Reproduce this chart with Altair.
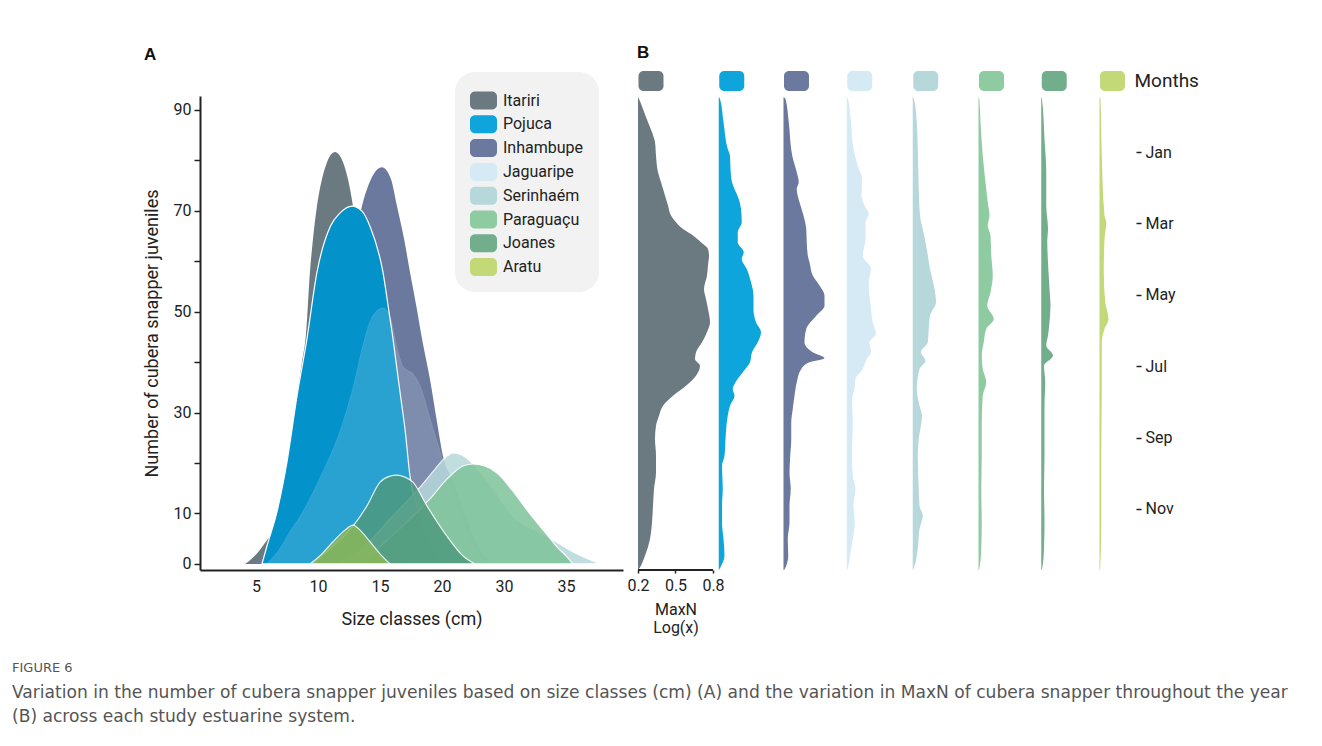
import altair as alt
import pandas as pd

SERIES = ["Itariri", "Pojuca", "Inhambupe", "Jaguaripe", "Serinhaém", "Paraguaçu", "Joanes", "Aratu"]
COLORS = ["#6A7A80", "#0DA5DC", "#6B799E", "#D6EAF5", "#B7D8DB", "#8FCBA1", "#72AE8C", "#C3D877"]

# ---------------- Panel A: juveniles per size class ----------------
SIZE_TICKS = [5, 10, 15, 20, 25, 30]
SIZE_TICK_LABELS = ["5", "10", "15", "20", "30", "35"]
COUNT_TICKS = [0, 10, 20, 30, 40, 50, 60, 70, 80, 90]
COUNT_LABELLED = [0, 10, 30, 50, 70, 90]

itariri_size = [4.11, 4.35, 5.56, 6.37, 7.18, 7.74, 8.31, 8.71, 9.03, 9.35, 9.6, 9.92, 10.32, 10.73, 11.37,
                 12.02, 12.42, 12.82, 13.23, 13.71, 14.35, 15.16, 16.21, 17.42, 18.63, 19.44]
itariri_count = [0, 0.4, 3.6, 6.9, 14.9, 23.4, 33.3, 40.0, 45.5, 57.8, 64.4, 70.9, 76.2, 79.6, 81.6,
                 79.6, 76.2, 70.9, 63.4, 52.5, 36.6, 21.8, 9.9, 3.0, 0.4, 0]

inhambupe_size = [4.52, 5.48, 6.94, 8.55, 10.0, 11.21, 12.18, 12.98, 13.55, 14.27, 15.16, 15.89, 16.37,
                  16.94, 17.42, 17.90, 18.39, 19.03, 19.6, 20.08, 20.89, 21.69, 22.82, 23.87, 24.27]
inhambupe_count = [0, 1.0, 4.0, 11.9, 23.8, 36.6, 52.5, 64.4, 70.9, 76.2, 78.6, 76.2, 70.9,
                   64.4, 57.8, 51.5, 44.6, 36.6, 28.1, 21.4, 16.4, 10.9, 4.0, 0.4, 0]

pojuca_size = [5.48, 5.89, 6.69, 7.5, 8.31, 9.11, 9.92, 11.0, 11.77, 12.74, 13.55, 14.19, 15.24, 15.73,
               16.05, 16.37, 16.69, 17.02, 17.42, 18.06, 18.87, 19.84, 20.48]
pojuca_count = [0, 3.6, 10.3, 20.2, 33.3, 44.6, 57.8, 66.9, 69.5, 70.9, 69.9, 66.9, 57.8, 49.9,
                44.6, 38.6, 32.7, 26.7, 17.4, 10.9, 5.0, 1.0, 0]

jaguaripe_size = [5.89, 6.77, 7.74, 8.79, 10.4, 11.77, 12.82, 13.63, 14.19, 14.76, 15.24, 15.81, 16.37,
                  16.85, 17.66, 18.23, 19.03, 19.84, 20.4, 21.05, 21.85, 22.9, 23.87]
jaguaripe_count = [0, 2.4, 6.3, 10.3, 18.2, 26.1, 34.7, 43.2, 47.9, 50.1, 50.7, 48.9, 42.6,
                   39.0, 37.6, 35.2, 28.7, 22.2, 18.2, 12.9, 6.9, 2.0, 0]

serinhaem_size = [11.37, 13.39, 15.81, 18.23, 19.44, 20.24, 20.89, 21.61, 22.26, 23.87, 25.73, 28.47, 30.56, 32.74]
serinhaem_count = [0, 2.6, 8.9, 15.2, 18.8, 21.0, 22.0, 21.6, 20.4, 15.8, 9.5, 5.5, 2.4, 0]

paraguacu_size = [13.39, 15.0, 17.02, 19.03, 20.4, 21.69, 22.5, 23.47, 24.44, 25.89, 27.1, 28.31, 29.27, 30.08, 30.56]
paraguacu_count = [0, 3.4, 8.0, 12.9, 16.8, 19.4, 19.8, 19.4, 18.0, 13.9, 9.9, 6.3, 3.4, 1.4, 0]

joanes_size = [9.52, 11.21, 12.82, 13.95, 15.0, 15.81, 16.37, 17.02, 17.66, 18.79, 20.4, 21.69, 22.66]
joanes_count = [0, 3.6, 7.5, 11.5, 16.2, 17.4, 17.6, 17.2, 16.2, 11.5, 5.5, 1.6, 0]

aratu_size = [9.35, 10.32, 11.21, 12.18, 12.82, 13.39, 14.19, 15.0, 15.81]
aratu_count = [0, 2.0, 4.4, 6.7, 7.7, 6.7, 4.4, 2.0, 0]

A_CURVES = {
    "Itariri": (itariri_size, itariri_count),
    "Inhambupe": (inhambupe_size, inhambupe_count),
    "Pojuca": (pojuca_size, pojuca_count),
    "Jaguaripe": (jaguaripe_size, jaguaripe_count),
    "Serinhaém": (serinhaem_size, serinhaem_count),
    "Paraguaçu": (paraguacu_size, paraguacu_count),
    "Joanes": (joanes_size, joanes_count),
    "Aratu": (aratu_size, aratu_count),
}
A_OPACITY = {"Itariri": 1, "Inhambupe": 1, "Pojuca": 1, "Jaguaripe": 0.18,
             "Serinhaém": 0.85, "Paraguaçu": 0.85, "Joanes": 0.85, "Aratu": 0.85}
# overlap tones seen in panel A (legend keeps the pure colours)
A_FILL_OVERRIDE = {"Pojuca": "#0392CA", "Paraguaçu": "#7EC499", "Joanes": "#4E9A7E", "Aratu": "#8AB85A"}
A_OUTLINED = {"Pojuca", "Jaguaripe", "Serinhaém", "Paraguaçu", "Joanes", "Aratu"}

# ---------------- Panel B: MaxN through the year ----------------
MONTH_TICKS = [1, 3, 5, 7, 9, 11]
MONTH_LABELS = ["Jan", "Mar", "May", "Jul", "Sep", "Nov"]
MAXN_TICKS = [0.2, 0.5, 0.8]

itariri_month = [-0.54, -0.485, -0.204, 0.169, 0.449, 0.729, 1.103, 1.57, 1.85, 2.22, 2.50, 2.78, 2.97, 3.16,
                 3.34, 3.53, 3.72, 3.90, 4.18, 4.46, 4.84, 5.12, 5.40, 5.77, 6.05, 6.33, 6.61, 6.80, 6.99,
                 7.27, 7.55, 7.83, 8.11, 8.39, 8.67, 9.04, 9.51, 9.97, 10.44, 10.91, 11.37, 11.84, 12.31,
                 12.68, 12.72]
itariri_maxn = [0.2, 0.208, 0.24, 0.28, 0.312, 0.336, 0.344, 0.36, 0.384, 0.416, 0.44, 0.464, 0.504, 0.56,
                0.64, 0.704, 0.76, 0.768, 0.76, 0.752, 0.728, 0.744, 0.76, 0.776, 0.752, 0.712, 0.664, 0.656,
                0.696, 0.664, 0.584, 0.48, 0.4, 0.368, 0.344, 0.336, 0.344, 0.344, 0.328, 0.32, 0.312, 0.296,
                0.256, 0.208, 0.2]

pojuca_month = [-0.54, -0.485, 0.169, 0.916, 1.103, 1.476, 1.85, 2.036, 2.317, 2.597, 2.97, 3.25, 3.53, 3.81,
                4.0, 4.28, 4.65, 5.02, 5.40, 5.77, 6.05, 6.33, 6.61, 6.89, 7.17, 7.45, 7.64, 7.83, 8.11,
                8.39, 8.58, 9.04, 9.51, 9.79, 10.44, 10.91, 11.37, 11.84, 12.31, 12.68, 12.72]
pojuca_maxn = [0.2, 0.21, 0.238, 0.272, 0.29, 0.294, 0.306, 0.326, 0.36, 0.378, 0.384, 0.352, 0.352, 0.4,
               0.384, 0.424, 0.458, 0.478, 0.478, 0.498, 0.538, 0.512, 0.466, 0.45, 0.392, 0.334, 0.312,
               0.326, 0.29, 0.272, 0.264, 0.254, 0.246, 0.226, 0.232, 0.226, 0.226, 0.238, 0.246, 0.206, 0.2]

inhambupe_month = [-0.54, -0.485, 0.169, 1.103, 1.57, 1.85, 2.036, 2.41, 2.78, 3.16, 3.53, 3.90, 4.09, 4.46,
                   4.74, 5.02, 5.31, 5.59, 5.96, 6.33, 6.61, 6.78, 6.89, 7.08, 7.45, 7.83, 8.20, 8.58, 9.04,
                   9.51, 9.97, 10.44, 10.91, 11.37, 11.84, 12.31, 12.68, 12.72]
inhambupe_maxn = [0.2, 0.216, 0.242, 0.27, 0.306, 0.322, 0.306, 0.328, 0.36, 0.382, 0.386, 0.394, 0.408,
                  0.434, 0.488, 0.528, 0.528, 0.462, 0.382, 0.368, 0.434, 0.528, 0.408, 0.342, 0.306, 0.288,
                  0.274, 0.262, 0.262, 0.254, 0.248, 0.258, 0.248, 0.248, 0.234, 0.238, 0.21, 0.2]

jaguaripe_month = [-0.54, -0.485, 0.169, 0.916, 1.383, 1.757, 2.223, 2.50, 2.74, 2.97, 3.44, 3.90, 4.28, 4.65,
                   5.02, 5.40, 5.77, 6.10, 6.33, 6.61, 6.80, 7.08, 7.36, 7.64, 7.92, 8.58, 9.51, 10.07, 10.44,
                   10.91, 11.37, 11.84, 12.31, 12.68, 12.72]
jaguaripe_maxn = [0.2, 0.21, 0.234, 0.254, 0.288, 0.322, 0.318, 0.342, 0.376, 0.35, 0.35, 0.328, 0.394, 0.376,
                  0.382, 0.394, 0.408, 0.434, 0.382, 0.394, 0.36, 0.328, 0.27, 0.262, 0.242, 0.248, 0.242,
                  0.248, 0.27, 0.254, 0.264, 0.248, 0.226, 0.206, 0.2]

serinhaem_month = [-0.54, -0.485, 0.169, 1.103, 2.036, 2.78, 3.25, 3.72, 4.28, 4.84, 5.21, 5.59, 5.96, 6.33,
                   6.61, 6.85, 7.08, 7.64, 8.11, 8.39, 9.04, 9.51, 10.44, 10.91, 11.19, 11.56, 12.12, 12.68, 12.72]
serinhaem_maxn = [0.2, 0.21, 0.232, 0.242, 0.248, 0.258, 0.286, 0.312, 0.338, 0.374, 0.386, 0.338, 0.328, 0.32,
                  0.266, 0.302, 0.254, 0.232, 0.254, 0.274, 0.248, 0.24, 0.248, 0.254, 0.28, 0.254, 0.24,
                  0.206, 0.2]

paraguacu_month = [-0.54, -0.485, 0.169, 1.103, 2.036, 2.41, 2.78, 3.06, 3.34, 3.90, 4.46, 4.93, 5.31, 5.68,
                   5.96, 6.33, 6.70, 7.08, 7.45, 7.83, 8.58, 9.51, 10.44, 11.37, 12.12, 12.68, 12.72]
paraguacu_maxn = [0.2, 0.206, 0.216, 0.234, 0.262, 0.274, 0.288, 0.274, 0.296, 0.302, 0.314, 0.296, 0.27,
                  0.322, 0.262, 0.242, 0.226, 0.234, 0.262, 0.234, 0.226, 0.226, 0.222, 0.226, 0.222, 0.206, 0.2]

joanes_month = [-0.54, -0.485, 0.636, 1.57, 2.50, 3.16, 3.53, 4.09, 4.84, 5.31, 5.77, 6.14, 6.42, 6.70, 6.99,
                7.45, 8.11, 9.51, 10.44, 11.37, 12.12, 12.68, 12.72]
joanes_maxn = [0.2, 0.206, 0.226, 0.24, 0.24, 0.254, 0.248, 0.254, 0.266, 0.274, 0.266, 0.254, 0.24, 0.294,
               0.222, 0.232, 0.226, 0.226, 0.222, 0.226, 0.222, 0.206, 0.2]

aratu_month = [-0.54, -0.485, 1.103, 2.78, 2.97, 3.44, 4.37, 5.21, 5.68, 5.96, 6.33, 7.64, 9.51, 11.37, 12.68, 12.72]
aratu_maxn = [0.2, 0.208, 0.218, 0.24, 0.254, 0.24, 0.234, 0.246, 0.272, 0.24, 0.218, 0.218, 0.214, 0.214, 0.206, 0.2]

B_PROFILES = {
    "Itariri": (itariri_month, itariri_maxn),
    "Pojuca": (pojuca_month, pojuca_maxn),
    "Inhambupe": (inhambupe_month, inhambupe_maxn),
    "Jaguaripe": (jaguaripe_month, jaguaripe_maxn),
    "Serinhaém": (serinhaem_month, serinhaem_maxn),
    "Paraguaçu": (paraguacu_month, paraguacu_maxn),
    "Joanes": (joanes_month, joanes_maxn),
    "Aratu": (aratu_month, aratu_maxn),
}
# column baseline of each estuary on the shared MaxN axis (Itariri sits on the 0.2 origin)
B_COLUMN_BASE = [0.2, 0.846, 1.364, 1.870, 2.398, 2.924, 3.426, 3.892]
MAXN_ORIGIN = 0.2

CAPTION_HEAD = "FIGURE 6"
CAPTION_LINES = [
    "Variation in the number of cubera snapper juveniles based on size classes (cm) (A) and the variation in MaxN of cubera snapper throughout the year",
    "(B) across each study estuarine system.",
]

# ---------------- styling helpers ----------------
FONT = "Roboto"
INK = "#222222"
LEGEND_SWATCH = ("M -0.63 -0.667 L 0.63 -0.667 A 0.37 0.37 0 0 1 1 -0.297 L 1 0.297 "
                 "A 0.37 0.37 0 0 1 0.63 0.667 L -0.63 0.667 A 0.37 0.37 0 0 1 -1 0.297 "
                 "L -1 -0.297 A 0.37 0.37 0 0 1 -0.63 -0.667 Z")
TOP_SWATCH = ("M -0.6 -0.8 L 0.6 -0.8 A 0.4 0.4 0 0 1 1 -0.4 L 1 0.4 A 0.4 0.4 0 0 1 0.6 0.8 "
              "L -0.6 0.8 A 0.4 0.4 0 0 1 -1 0.4 L -1 -0.4 A 0.4 0.4 0 0 1 -0.6 -0.8 Z")

color_scale = alt.Scale(domain=SERIES, range=COLORS)

size_label_expr = "".join(f"datum.value == {v} ? '{l}' : " for v, l in zip(SIZE_TICKS, SIZE_TICK_LABELS)) + "''"
count_label_expr = f"indexof({COUNT_LABELLED}, datum.value) >= 0 ? datum.label : ''"
month_label_expr = "".join(f"datum.value == {v} ? '{l}' : " for v, l in zip(MONTH_TICKS, MONTH_LABELS)) + "''"

xA = alt.X("size:Q", scale=alt.Scale(domain=[0.484, 34.6], nice=False, zero=False),
           axis=alt.Axis(values=SIZE_TICKS, labelExpr=size_label_expr, ticks=False, tickSize=0,
                         labelPadding=8, labelFont=FONT, labelFontSize=16, labelColor=INK,
                         domainColor=INK, domainWidth=2, grid=False,
                         title="Size classes (cm)", titleFont=FONT, titleFontSize=18,
                         titleFontWeight="normal", titleColor=INK, titlePadding=16))
yA = alt.Y("count:Q", scale=alt.Scale(domain=[-1.2, 92.7], nice=False, zero=False),
           axis=alt.Axis(values=COUNT_TICKS, labelExpr=count_label_expr, tickSize=6, tickWidth=1.5,
                         tickColor=INK, labelPadding=3, labelFont=FONT, labelFontSize=16, labelColor=INK,
                         domainColor=INK, domainWidth=2, grid=False,
                         title="Number of cubera snapper juveniles", titleFont=FONT, titleFontSize=18,
                         titleFontWeight="normal", titleColor=INK, titlePadding=12))
legendA = alt.Legend(title=None, orient="none", legendX=255, legendY=-24, fillColor="#F2F2F2",
                     cornerRadius=20, padding=15, symbolType=LEGEND_SWATCH, symbolSize=729,
                     symbolOpacity=1, symbolStrokeWidth=0, labelFont=FONT, labelFontSize=16,
                     labelColor=INK, labelOffset=6, rowPadding=0.8)

layersA = []
for name, (xs, ys) in A_CURVES.items():
    df = pd.DataFrame({"series": name, "size": xs, "count": ys})
    mark_kw = dict(interpolate="monotone", opacity=A_OPACITY[name])
    if name in A_OUTLINED:
        mark_kw.update(stroke="white", strokeWidth=1.2)
    enc = dict(x=xA, y=yA, y2=alt.datum(0))
    if name in A_FILL_OVERRIDE:
        mark_kw.update(fill=A_FILL_OVERRIDE[name])
    else:
        enc["color"] = alt.Color("series:N", scale=color_scale, legend=legendA)
    layersA.append(alt.Chart(df).mark_area(**mark_kw).encode(**enc))

panelA = alt.layer(*layersA).properties(
    width=423, height=474,
    title=alt.TitleParams("A", anchor="start", frame="group", dx=-56, offset=19, baseline="alphabetic",
                          font="Liberation Sans", fontSize=17, fontWeight="bold", color="#111111"),
)

# ---------------- panel B ----------------
rows = []
for (name, (ms, vs)), base in zip(B_PROFILES.items(), B_COLUMN_BASE):
    for m, v in zip(ms, vs):
        rows.append({"series": name, "month": m, "maxn": v,
                     "x0": base, "x1": base + (v - MAXN_ORIGIN)})
dfB = pd.DataFrame(rows)

xB_scale = alt.Scale(domain=[0.2, 4.184], nice=False, zero=False)
yB_scale = alt.Scale(domain=[-0.569, 12.71], nice=False, zero=False, reverse=True)

violins = alt.Chart(dfB).mark_area(orient="horizontal", interpolate="monotone").encode(
    y=alt.Y("month:Q", scale=yB_scale,
            axis=alt.Axis(orient="right", values=MONTH_TICKS, labelExpr=month_label_expr, domain=False,
                          tickSize=5, tickWidth=1.5, tickColor=INK, labelPadding=4, labelFont=FONT,
                          labelFontSize=16, labelColor=INK, grid=False, title=None)),
    x=alt.X("x1:Q", scale=xB_scale, stack=None,
            axis=alt.Axis(values=MAXN_TICKS, format=".1f", domain=False, tickSize=3, tickWidth=1.5,
                          tickColor=INK, labelPadding=4, labelFont=FONT, labelFontSize=16, labelColor=INK,
                          labelFlush=False, grid=False, title=["MaxN", "Log(x)"], titleFont=FONT,
                          titleFontSize=16, titleFontWeight="normal", titleColor=INK, titleX=37.5,
                          titleY=31, titleAlign="center", titleBaseline="top", titleLineHeight=18)),
    x2="x0:Q",
    color=alt.Color("series:N", scale=color_scale, legend=None),
)

dfKeys = pd.DataFrame({"series": SERIES, "x": [b + 0.104 for b in B_COLUMN_BASE], "y": -0.989})
keys = alt.Chart(dfKeys).mark_point(shape=TOP_SWATCH, size=625, filled=True, opacity=1).encode(
    x=alt.X("x:Q", scale=xB_scale), y=alt.Y("y:Q", scale=yB_scale),
    color=alt.Color("series:N", scale=color_scale, legend=None),
)
dfMonthsLabel = pd.DataFrame({"x": [B_COLUMN_BASE[-1] + 0.28], "y": [-0.989], "t": ["Months"]})
months_label = alt.Chart(dfMonthsLabel).mark_text(align="left", baseline="middle", font=FONT, fontSize=19,
                                                   color=INK).encode(
    x=alt.X("x:Q", scale=xB_scale), y=alt.Y("y:Q", scale=yB_scale), text="t:N")

dfAxisLine = pd.DataFrame({"x": [MAXN_TICKS[0]], "x2": [MAXN_TICKS[-1]], "y": [12.71]})
axis_line = alt.Chart(dfAxisLine).mark_rule(color=INK, strokeWidth=2).encode(
    x=alt.X("x:Q", scale=xB_scale), x2="x2:Q", y=alt.Y("y:Q", scale=yB_scale))

panelB = alt.layer(violins, axis_line, keys, months_label).properties(
    width=498, height=474,
    title=alt.TitleParams("B", anchor="start", frame="group", dx=-1, dy=4, offset=0, baseline="alphabetic",
                          font="Liberation Sans", fontSize=17, fontWeight="bold", color="#111111"),
)

chart = alt.hconcat(panelA, panelB, spacing=15, bounds="flush").properties(
    title=alt.TitleParams(CAPTION_HEAD, subtitle=CAPTION_LINES, orient="bottom", anchor="start",
                          frame="group", dx=-188, offset=27, font="DejaVu Sans", fontSize=13,
                          fontWeight="normal", color="#555555", subtitleFont="DejaVu Sans",
                          subtitleFontSize=17.1, subtitleColor="#555555", subtitleLineHeight=24,
                          subtitlePadding=9),
    padding={"left": 4, "top": 36, "right": 10, "bottom": 10},
).configure(font=FONT, view=alt.ViewConfig(stroke="transparent", strokeWidth=0))

chart.save("out.html", embed_options={"renderer": "svg", "actions": False})
